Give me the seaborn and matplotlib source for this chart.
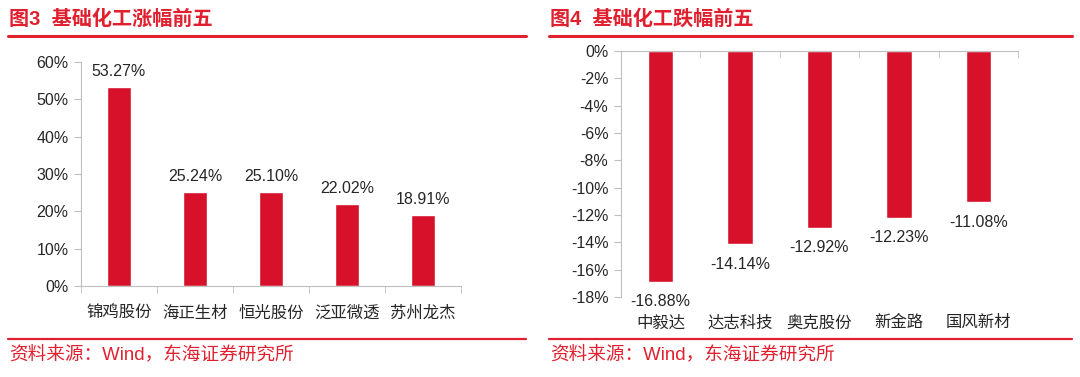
import matplotlib
matplotlib.use('Agg')
import matplotlib.pyplot as plt
import matplotlib.ticker as mticker
from matplotlib.lines import Line2D
import seaborn as sns

sns.set_style('white')
plt.rcParams['font.family'] = ['Liberation Sans', 'Noto Sans CJK SC', 'DejaVu Sans']

# data
up_names = ['锦鸡股份', '海正生材', '恒光股份', '泛亚微透', '苏州龙杰']
up_vals = [53.27, 25.24, 25.10, 22.02, 18.91]
down_names = ['中毅达', '达志科技', '奥克股份', '新金路', '国风新材']
down_vals = [-16.88, -14.14, -12.92, -12.23, -11.08]

bar_red = '#D71129'
title_red = '#E0202F'
spine_gray = '#BFBFBF'

fig = plt.figure(figsize=(10.8, 3.77), dpi=100)
W, H = 1080, 377

def fx(px):
    return px / W

def fy(py):
    return 1 - py / H

# headers and footers
for x0, x1, num in [(8, 526, '3'), (549, 1072, '4')]:
    fig.add_artist(Line2D([fx(x0), fx(x1)], [fy(36), fy(36)], color=title_red, lw=2.2))
    fig.add_artist(Line2D([fx(x0), fx(x1)], [fy(339), fy(339)], color=title_red, lw=1.6))
    fig.text(fx(x0 + 1), fy(354), '资料来源：Wind，东海证券研究所', color=title_red,
             fontsize=13.4, va='center', ha='left')
fig.text(fx(9), fy(19), '图3  基础化工涨幅前五', color=title_red, fontsize=14.5,
         fontweight='bold', va='center', ha='left')
fig.text(fx(550), fy(19), '图4  基础化工跌幅前五', color=title_red, fontsize=14.5,
         fontweight='bold', va='center', ha='left')

# left chart
ax1 = fig.add_axes([fx(81), fy(286), fx(461 - 81), fy(62) - fy(286)])
sns.barplot(x=up_names, y=up_vals, color=bar_red, width=0.32, saturation=1, ax=ax1)
ax1.set_ylim(0, 60)
ax1.set_xlim(-0.5, len(up_names) - 0.5)
ax1.yaxis.set_major_locator(mticker.MultipleLocator(10))
ax1.yaxis.set_major_formatter(mticker.FuncFormatter(lambda v, p: f'{v:.0f}%'))
for s in ['top', 'right']:
    ax1.spines[s].set_visible(False)
for s in ['left', 'bottom']:
    ax1.spines[s].set_color(spine_gray)
ax1.tick_params(axis='y', length=5, color=spine_gray, labelsize=11.5, pad=4, left=True)
ax1.tick_params(axis='x', length=0, labelsize=11.8, pad=14)
ax1.set_xticks([i + 0.5 for i in range(-1, len(up_names))], minor=True)
ax1.tick_params(axis='x', which='minor', length=5, color=spine_gray, bottom=True)
for i, v in enumerate(up_vals):
    ax1.text(i, v + 2.2, f'{v:.2f}%', ha='center', va='bottom', fontsize=11.5)
ax1.set_xlabel('')
ax1.set_ylabel('')

# right chart
ax2 = fig.add_axes([fx(621), fy(297), fx(1018 - 621), fy(51) - fy(297)])
sns.barplot(x=down_names, y=down_vals, color=bar_red, width=0.32, saturation=1, ax=ax2)
ax2.set_ylim(-18, 0)
ax2.set_xlim(-0.5, len(down_names) - 0.5)
ax2.yaxis.set_major_locator(mticker.MultipleLocator(2))
ax2.yaxis.set_major_formatter(mticker.FuncFormatter(lambda v, p: f'{v:.0f}%'))
for s in ['bottom', 'right']:
    ax2.spines[s].set_visible(False)
for s in ['left', 'top']:
    ax2.spines[s].set_color(spine_gray)
ax2.tick_params(axis='y', length=5, color=spine_gray, labelsize=11.5, pad=4, left=True)
ax2.tick_params(axis='x', length=0, labelsize=11.8, pad=13)
ax2.set_xticks([i + 0.5 for i in range(-1, len(down_names))], minor=True)
ax2.tick_params(axis='x', which='minor', length=5, color=spine_gray, top=True,
                bottom=False, direction='in')
for i, v in enumerate(down_vals):
    ax2.text(i, v - 0.9, f'{v:.2f}%', ha='center', va='top', fontsize=11.5)
ax2.set_xlabel('')
ax2.set_ylabel('')

fig.savefig('out.png', dpi=100)
